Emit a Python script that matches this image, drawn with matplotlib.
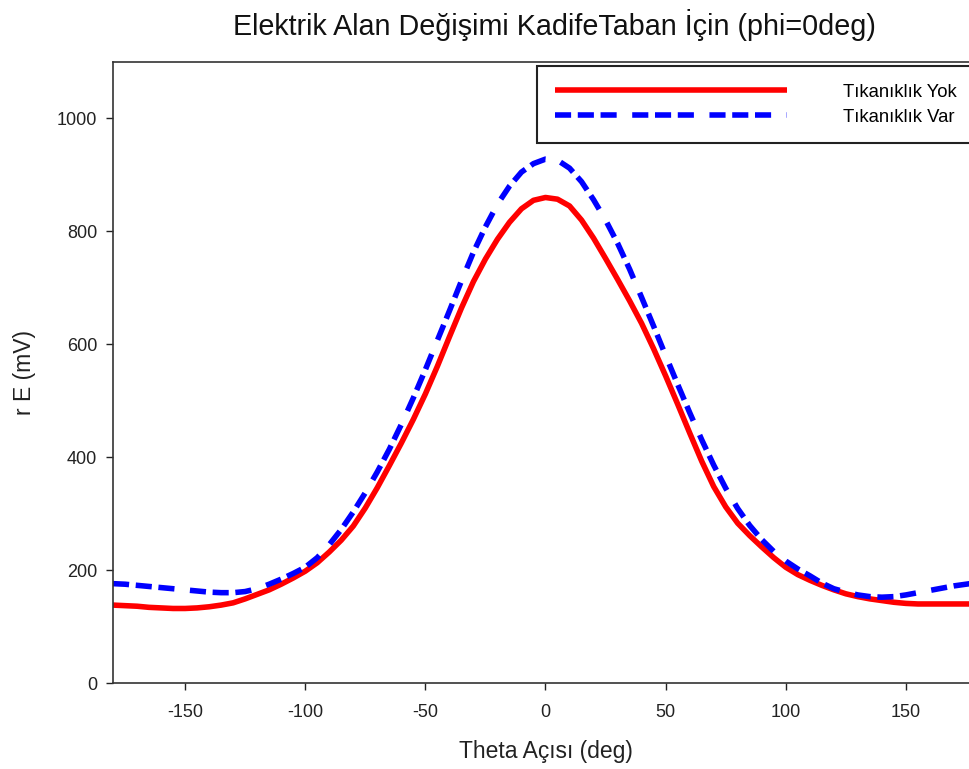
import matplotlib
matplotlib.use('Agg')
from matplotlib import pyplot as plt

# Theta angle (deg) and rE values (mV), every 5 degrees
theta = list(range(-180, 185, 5))
tikaniklik_yok = [138, 137, 136, 134, 133, 132, 132, 133, 135, 138, 142, 149, 157, 165, 175, 186,
                  198, 213, 232, 253, 278, 310, 346, 385, 425, 467, 512, 561, 613, 664, 711, 751, 786, 816, 840, 855,
                  860,
                  857, 845, 820, 788, 752, 715, 677, 637, 592, 544, 494, 443, 393, 348, 312, 283, 261, 241, 222, 205,
                  192, 182, 173, 165, 158, 153, 149, 146, 143, 141, 140, 140, 140, 140, 140, 140]
tikaniklik_var = [176, 175, 173, 171, 169, 167, 165, 163, 161, 160, 160, 162, 167, 175, 184, 194,
                  205, 222, 245, 272, 303, 337, 374, 414, 458, 505, 555, 607, 659, 712, 763, 808, 848, 880, 905, 920,
                  928,
                  926, 912, 888, 856, 820, 779, 733, 683, 632, 580, 529, 479, 431, 386, 345, 309, 279, 254, 233, 216,
                  202, 190, 177, 167, 161, 156, 153, 152, 153, 156, 160, 164, 168, 172, 175, 178]

plt.rcParams['font.family'] = ['Liberation Sans', 'DejaVu Sans']
plt.rcParams['axes.unicode_minus'] = False

fig = plt.figure(figsize=(9.7, 7.69), dpi=100)
ax = fig.add_axes([113/970, 86/769, 865/970, 621/769])

ax.plot(theta, tikaniklik_yok, color='#ff0000', lw=4.0, solid_capstyle='butt', solid_joinstyle='round',
        label='Tıkanıklık Yok')
ax.plot(theta, tikaniklik_var, color='#0000ff', lw=4.0, dashes=[2.9, 1.2, 2.9, 1.2, 2.9, 2.8],
        dash_capstyle='butt', dash_joinstyle='round', label='Tıkanıklık Var')

ax.set_xlim(-180, 180)
ax.set_ylim(0, 1100)
ax.set_xticks([-150, -100, -50, 0, 50, 100, 150])
ax.set_yticks([0, 200, 400, 600, 800, 1000])
ax.tick_params(direction='out', length=5, width=1, colors='#222222', labelsize=13)
ax.tick_params(axis='y', pad=6.5)
ax.tick_params(axis='x', pad=10)
for s in ['left', 'bottom', 'top']:
    ax.spines[s].set_color('#333333')
    ax.spines[s].set_linewidth(1.2)
ax.spines['right'].set_visible(False)

ax.set_xlabel('Theta Açısı (deg)', fontsize=16.5, color='#222222', labelpad=14)
ax.set_ylabel('r E (mV)', fontsize=16.5, color='#222222', labelpad=15)
fig.text(554/970, 1 - 25/769, 'Elektrik Alan Değişimi KadifeTaban İçin (phi=0deg)',
         ha='center', va='center', fontsize=20.7, color='#111111')

leg = ax.legend(loc='upper left', bbox_to_anchor=(537/970, 1 - 74/769, 450/970, 8/769),
                bbox_transform=fig.transFigure, mode='expand',
                fontsize=13.3, handlelength=12.6, handletextpad=3.0, borderpad=0.95, labelspacing=0.45,
                fancybox=False, framealpha=1, edgecolor='#222222', borderaxespad=0)
leg.get_frame().set_linewidth(1.5)

fig.savefig('out.png', dpi=100)
